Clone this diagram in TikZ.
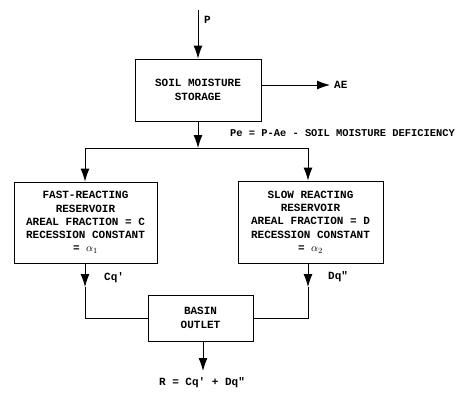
\documentclass[tikz,border=0pt]{standalone}
\usepackage{fontspec}
\setmainfont{Liberation Mono}
\usetikzlibrary{positioning,calc}
\usetikzlibrary{arrows.meta}
\tikzset{
	box/.style={draw=black,line width=0.9pt,align=center,font=\fontsize{11}{13.3}\selectfont\bfseries,inner sep=2pt},
	flow/.style={draw=black,line width=0.9pt,-{Latex[length=13pt,width=9pt]}},
	link/.style={draw=black,line width=0.9pt},
	lbl/.style={font=\fontsize{11}{13}\selectfont\bfseries,inner sep=0pt},
}
\begin{document}
\begin{tikzpicture}[x=1pt,y=-1pt]
	\useasboundingbox (0,0) rectangle (457,392);
	% boxes
	\node[box,minimum width=126pt,minimum height=62pt] (soil) at (198,90) {SOIL MOISTURE\\STORAGE};
	\node[box,minimum width=143pt,minimum height=81pt] (fast) at (85.5,222.5)
		{FAST-REACTING\\RESERVOIR\\AREAL FRACTION = C\\RECESSION CONSTANT\\= $\alpha_{1}$};
	\node[box,minimum width=145pt,minimum height=82pt] (slow) at (310.5,222)
		{SLOW REACTING\\RESERVOIR\\AREAL FRACTION = D\\RECESSION CONSTANT\\= $\alpha_{2}$};
	\node[box,minimum width=105pt,minimum height=46pt] (basin) at (200.5,318) {BASIN\\OUTLET};
	% free ends
	\coordinate (top) at (198,10);
	\coordinate (ae) at (330,85);
	\coordinate (split) at (198,148);
	\coordinate (splitL) at (85,148);
	\coordinate (splitR) at (308,148);
	\coordinate (cq) at (85,287);
	\coordinate (dq) at (308,287);
	\coordinate (out) at (203,371);
	% connectors
	\draw[flow] (top) -- (soil.north);
	\draw[flow] (soil.east |- ae) -- (ae);
	\draw[flow] (soil.south) -- (split);
	\draw[link] (splitL) -- (splitR);
	\draw[flow] (splitL) -- (splitL |- fast.north);
	\draw[flow] (splitR) -- (splitR |- slow.north);
	\draw[flow] (cq |- fast.south) -- (cq);
	\draw[link] (cq) |- (basin.west);
	\draw[flow] (dq |- slow.south) -- (dq);
	\draw[link] (dq) |- (basin.east);
	\draw[flow] (out |- basin.south) -- (out);
	% labels
	\node[lbl,anchor=west] (plbl) at (204,20) {P};
	\node[lbl,anchor=west,right=4pt of ae] (aelbl) {AE};
	\node[lbl,anchor=east,font=\fontsize{10.4}{13}\selectfont\bfseries] (pelbl) at (455,133) {Pe = P-Ae - SOIL MOISTURE DEFICIENCY};
	\node[lbl,anchor=west] (cqlbl) at (104,278) {Cq\textquotesingle};
	\node[lbl,anchor=west] (dqlbl) at (328,277) {Dq\textquotedbl};
	\node[lbl] (rlbl) at (202,383) {R = Cq\textquotesingle{} + Dq\textquotedbl};
\end{tikzpicture}
\end{document}
